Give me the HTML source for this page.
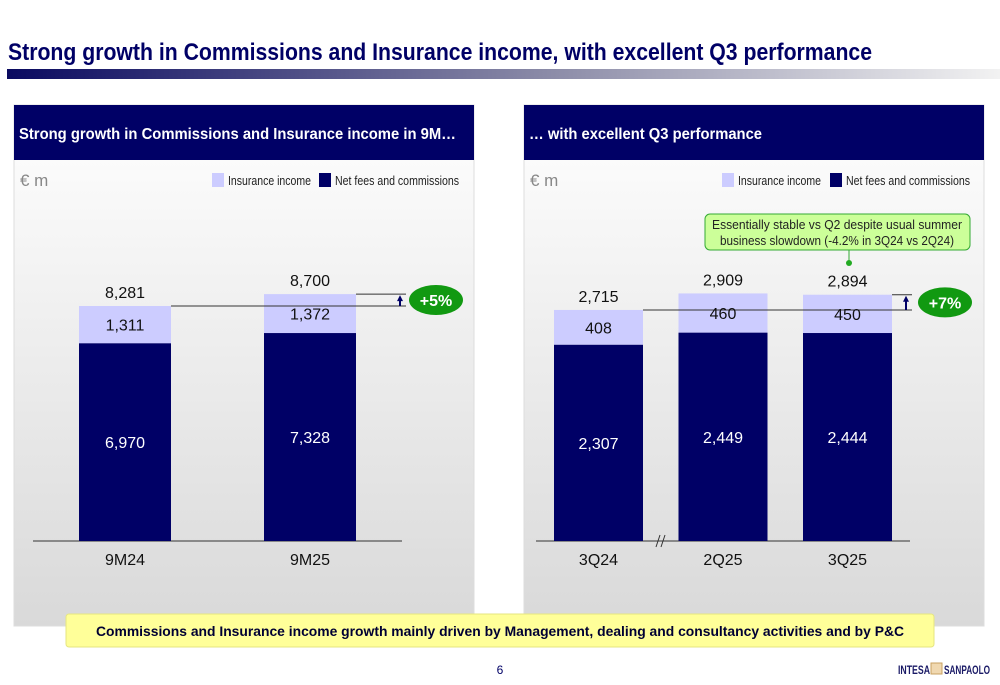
<!DOCTYPE html>
<html><head><meta charset="utf-8"><style>
html,body{margin:0;padding:0;background:#fff;width:1000px;height:685px;overflow:hidden}
svg text{font-family:"Liberation Sans",sans-serif}
</style></head><body>
<svg id="s" width="1000" height="685" viewBox="0 0 1000 685" xmlns="http://www.w3.org/2000/svg">
<defs>
<linearGradient id="tg" x1="0" x2="1" y1="0" y2="0"><stop offset="0" stop-color="#0a0a60"/><stop offset="0.55" stop-color="#8c8ca8"/><stop offset="1" stop-color="#f2f2f2"/></linearGradient>
<linearGradient id="pg" x1="0" x2="0" y1="0" y2="1"><stop offset="0" stop-color="#ffffff"/><stop offset="1" stop-color="#d9d9d9"/></linearGradient>
</defs>
<text x="8" y="60" font-size="24" font-weight="bold" fill="#000066" textLength="864" lengthAdjust="spacingAndGlyphs">Strong growth in Commissions and Insurance income, with excellent Q3 performance</text>
<rect x="7" y="69" width="993" height="10" fill="url(#tg)"/>

<g>
<rect x="14" y="105" width="460" height="521" fill="url(#pg)" stroke="#ddd"/>
<rect x="14" y="105" width="460" height="55" fill="#000066"/>
<text x="19" y="139" font-size="16" font-weight="bold" fill="#fff" textLength="437" lengthAdjust="spacingAndGlyphs">Strong growth in Commissions and Insurance income in 9M…</text>
<text x="20" y="186" font-size="17" fill="#888">€ m</text>
<rect x="212" y="173" width="12" height="14" fill="#ccccff"/><text x="228" y="185" font-size="13" fill="#222" textLength="83" lengthAdjust="spacingAndGlyphs">Insurance income</text>
<rect x="319" y="173" width="12" height="14" fill="#000066"/><text x="335" y="185" font-size="13" fill="#222" textLength="124" lengthAdjust="spacingAndGlyphs">Net fees and commissions</text>
<g id="lc"></g>
</g>

<g>
<rect x="524" y="105" width="460" height="521" fill="url(#pg)" stroke="#ddd"/>
<rect x="524" y="105" width="460" height="55" fill="#000066"/>
<text x="529" y="139" font-size="16" font-weight="bold" fill="#fff" textLength="233" lengthAdjust="spacingAndGlyphs">… with excellent Q3 performance</text>
<text x="530" y="186" font-size="17" fill="#888">€ m</text>
<rect x="722" y="173" width="12" height="14" fill="#ccccff"/><text x="738" y="185" font-size="13" fill="#222" textLength="83" lengthAdjust="spacingAndGlyphs">Insurance income</text>
<rect x="830" y="173" width="12" height="14" fill="#000066"/><text x="846" y="185" font-size="13" fill="#222" textLength="124" lengthAdjust="spacingAndGlyphs">Net fees and commissions</text>
<rect x="705" y="214" width="265" height="36" rx="5" fill="#ccff99" stroke="#33aa33"/>
<text x="837" y="229" font-size="13" text-anchor="middle" fill="#222" textLength="250" lengthAdjust="spacingAndGlyphs">Essentially stable vs Q2 despite usual summer</text>
<text x="837" y="245" font-size="13" text-anchor="middle" fill="#222" textLength="234" lengthAdjust="spacingAndGlyphs">business slowdown (-4.2% in 3Q24 vs 2Q24)</text>
<line x1="849" y1="250" x2="849" y2="262" stroke="#33aa33"/><circle cx="849" cy="263" r="3" fill="#22aa22"/>
<g id="rc"></g>
</g>

<rect x="66" y="614" width="868" height="33" rx="3" fill="#ffff99" stroke="#e6e680"/>
<text x="500" y="636" font-size="14" font-weight="bold" text-anchor="middle" fill="#000033" textLength="808" lengthAdjust="spacingAndGlyphs">Commissions and Insurance income growth mainly driven by Management, dealing and consultancy activities and by P&amp;C</text>
<text x="500" y="674" font-size="12" text-anchor="middle" fill="#000066">6</text>
<g>
<text x="898" y="674" font-size="12" font-family="Liberation Serif" font-weight="bold" fill="#1a1a66" textLength="32" lengthAdjust="spacingAndGlyphs">INTESA</text>
<rect x="931" y="663" width="11" height="11" fill="#f0d8b0" stroke="#c9a060"/>
<text x="944" y="674" font-size="12" font-family="Liberation Serif" font-weight="bold" fill="#1a1a66" textLength="46" lengthAdjust="spacingAndGlyphs">SANPAOLO</text>
</g>
</svg>
<script>
const leftCats=["9M24","9M25"];
const leftNet=[6970,7328];
const leftIns=[1311,1372];
const leftTotals=["8,281","8,700"];
const leftGrowth="+5%";
const rightCats=["3Q24","2Q25","3Q25"];
const rightNet=[2307,2449,2444];
const rightIns=[408,460,450];
const rightTotals=["2,715","2,909","2,894"];
const rightGrowth="+7%";
const NS="http://www.w3.org/2000/svg";
function mk(p,t,a,txt){const e=document.createElementNS(NS,t);for(const k in a)e.setAttribute(k,a[k]);if(txt!==undefined)e.textContent=txt;p.appendChild(e);return e;}
const fmt=v=>v.toLocaleString("en-US");
function chart(gid,cats,net,ins,tots,growth,o){
 const g=document.getElementById(gid);
 const base=541;
 const y=v=>base-v*o.scale;
 const x=i=>o.x0+i*o.step;
 mk(g,"line",{x1:o.ax0,x2:o.ax1,y1:base,y2:base,stroke:"#333","stroke-width":1});
 const tops=[];
 cats.forEach((c,i)=>{
  const xl=x(i),n=net[i],s=ins[i],t=n+s;
  let r=mk(g,"rect",{x:xl,y:y(n),width:o.w,height:base-y(n),fill:"#000066"});
  
  
  r=mk(g,"rect",{x:xl,y:y(t),width:o.w,height:y(n)-y(t),fill:"#ccccff"});
  
  
  tops.push(y(t));
 });
 const last=cats.length-1, y0=tops[0], y1=tops[last], xr=x(last)+o.w, xe=xr+o.ext;
 mk(g,"line",{x1:x(0)+o.w,x2:xe,y1:y0,y2:y0,stroke:"#333"});
 mk(g,"line",{x1:xr,x2:xe,y1:y1,y2:y1,stroke:"#333"});
 cats.forEach((c,i)=>{
  const xl=x(i),n=net[i],s=ins[i],t=n+s,cx=xl+o.w/2;
  mk(g,"text",{x:cx,y:(y(n)+base)/2+6,"font-size":16,"text-anchor":"middle",fill:"#fff"},fmt(n));
  mk(g,"text",{x:cx,y:(y(n)+y(t))/2+6,"font-size":16,"text-anchor":"middle",fill:"#111"},fmt(s));
  mk(g,"text",{x:cx,y:y(t)-8,"font-size":16,"text-anchor":"middle",fill:"#111"},tots[i]);
  mk(g,"text",{x:cx,y:565,"font-size":16,"text-anchor":"middle",fill:"#111"},c);
 });
 mk(g,"line",{x1:xe-6,x2:xe-6,y1:y0,y2:y1+3,stroke:"#000066","stroke-width":2});
 mk(g,"path",{d:`M${xe-9} ${y1+7}L${xe-6} ${y1+1}L${xe-3} ${y1+7}Z`,fill:"#000066"});
 const b=mk(g,"ellipse",{cx:xe+o.boff,cy:(y0+y1)/2,rx:27,ry:15,fill:"#119911"});
 
 
 mk(g,"text",{x:xe+o.boff,y:(y0+y1)/2+6,"font-size":16,"font-weight":"bold","text-anchor":"middle",fill:"#fff"},growth);
 if(o.brk){
  mk(g,"line",{x1:o.brk-5,y1:547,x2:o.brk-1,y2:535,stroke:"#333"});
  mk(g,"line",{x1:o.brk,y1:547,x2:o.brk+4,y2:535,stroke:"#333"});
 }
}
chart("lc",leftCats,leftNet,leftIns,leftTotals,leftGrowth,{scale:0.02838,x0:79,step:185,w:92,ax0:33,ax1:402,ext:50,boff:30});
chart("rc",rightCats,rightNet,rightIns,rightTotals,rightGrowth,{scale:0.0851,x0:554,step:124.5,w:89,ax0:536,ax1:910,ext:20,boff:33,brk:661});
</script>
</body></html>
